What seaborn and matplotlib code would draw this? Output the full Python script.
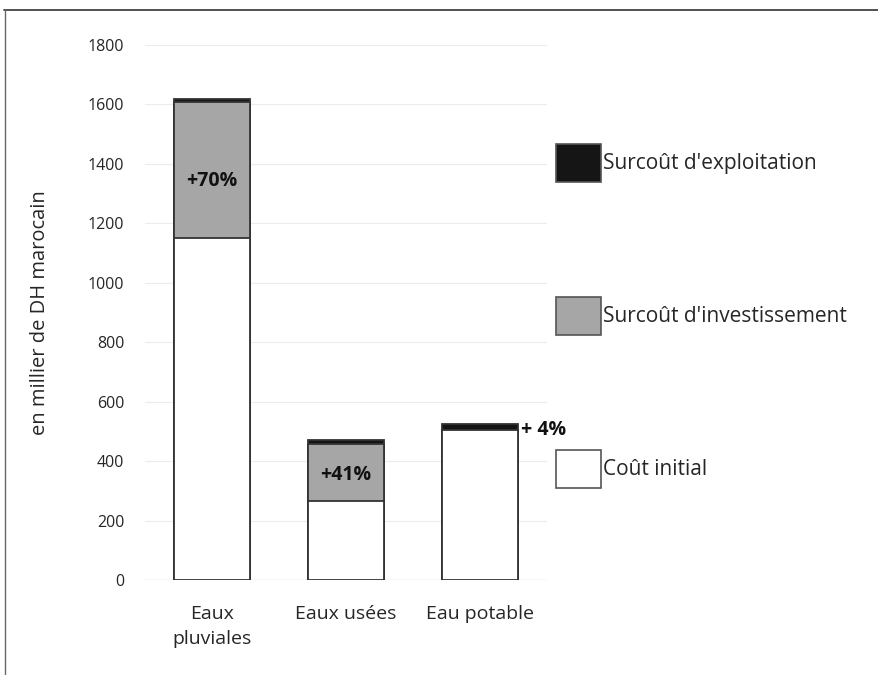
import matplotlib
matplotlib.use("Agg")
import matplotlib.pyplot as plt
from matplotlib.patches import Patch
from matplotlib.lines import Line2D
import seaborn as sns
import pandas as pd

# Cost breakdown per network (thousand Moroccan dirhams)
categories = ["Eaux\npluviales", "Eaux usées", "Eau potable"]
cout_initial = [1150, 265, 505]
surcout_investissement = [457, 193, 0]
surcout_exploitation = [13, 13, 20]
pct_labels = ["+70%", "+41%", "+ 4%"]

series_names = ["Coût initial", "Surcoût d'investissement", "Surcoût d'exploitation"]
series_colors = ["#ffffff", "#a6a6a6", "#151515"]

sns.set_style("white")
plt.rcParams["font.family"] = ["Open Sans", "DejaVu Sans"]

df = pd.DataFrame({
    "categorie": categories,
    "initial": cout_initial,
    "invest": surcout_investissement,
    "exploit": surcout_exploitation,
})
df["lvl1"] = df["initial"]
df["lvl2"] = df["initial"] + df["invest"]
df["lvl3"] = df["lvl2"] + df["exploit"]

fig = plt.figure(figsize=(8.79, 6.75), dpi=100)
ax = fig.add_axes([0.165, 0.1407, 0.457, 0.7926])

# faint horizontal gridlines
for v in range(0, 1801, 200):
    ax.axhline(v, color="#ececec", lw=0.8, zorder=0)

# stacked bars: draw cumulative totals from the tallest down
for col, color in zip(["lvl3", "lvl2", "lvl1"], series_colors[::-1]):
    sns.barplot(data=df, x="categorie", y=col, color=color, width=0.57,
                edgecolor="#333333", linewidth=1.3, saturation=1, ax=ax, zorder=2)

ax.set_ylim(0, 1800)
ax.set_xlim(-0.5, 2.5)
ax.set_yticks(range(0, 1801, 200))
ax.tick_params(axis="y", labelsize=11.5, pad=15, length=0)
ax.tick_params(axis="x", labelsize=14, pad=18, length=0)
for lab in ax.get_xticklabels():
    lab.set_linespacing(1.5)
ax.set_xlabel("")
ax.set_ylabel("en millier de DH marocain", fontsize=14.5, labelpad=27)
for s in ax.spines.values():
    s.set_visible(False)
ax.axhline(0, color="#dddddd", lw=1.0, zorder=1)

# percentage annotations
ax.text(0, cout_initial[0] + 0.42 * surcout_investissement[0], pct_labels[0],
        ha="center", va="center", fontsize=14, fontweight="bold", color="#111111", zorder=5)
ax.text(1, cout_initial[1] + 0.45 * surcout_investissement[1], pct_labels[1],
        ha="center", va="center", fontsize=14, fontweight="bold", color="#111111", zorder=5)
ax.text(2 + 0.31, df["lvl3"][2] - 20, pct_labels[2],
        ha="left", va="center", fontsize=14, fontweight="bold", color="#111111", zorder=5)

# legend with large swatches
handles = [Patch(facecolor=c, edgecolor="#555555", linewidth=1.2)
           for c in series_colors[::-1]]
fig.legend(handles, series_names[::-1], loc="upper left",
           bbox_to_anchor=(0.6325, 0.7867), frameon=False, fontsize=15,
           handlelength=2.16, handleheight=2.43, labelspacing=5.52,
           handletextpad=0.1, borderpad=0, borderaxespad=0)

# outer frame lines
fig.add_artist(Line2D([0.005, 1.0], [0.985, 0.985], transform=fig.transFigure,
                      color="#333333", lw=1.2))
fig.add_artist(Line2D([0.006, 0.006], [0.0, 0.985], transform=fig.transFigure,
                      color="#666666", lw=1.0))

fig.savefig("out.png", dpi=100)
